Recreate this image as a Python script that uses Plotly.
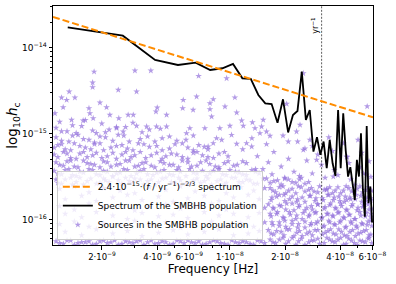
import numpy as np
import plotly.graph_objects as go

# ---------------- data ----------------
# Spectrum of the SMBHB population (frequency bins, Hz) and characteristic strain
spec_freq = [1.3e-9, 2.6e-9, 3.9e-9, 5.2e-9, 6.5e-9, 7.8e-9, 9.1e-9, 1.04e-8, 1.17e-8, 1.30e-8,
             1.43e-8, 1.56e-8, 1.69e-8, 1.82e-8, 1.95e-8, 2.08e-8, 2.21e-8, 2.34e-8, 2.47e-8, 2.60e-8,
             2.73e-8, 2.86e-8, 2.99e-8, 3.12e-8, 3.25e-8, 3.38e-8, 3.51e-8, 3.64e-8, 3.77e-8, 3.90e-8,
             4.03e-8, 4.16e-8, 4.29e-8, 4.42e-8, 4.55e-8, 4.68e-8, 4.81e-8, 4.94e-8, 5.07e-8, 5.20e-8,
             5.33e-8, 5.46e-8, 5.59e-8, 5.72e-8, 5.85e-8, 5.98e-8]
spec_hc = [1.74e-14, 1.39e-14, 7.25e-15, 6.34e-15, 6.74e-15, 5.55e-15, 5.81e-15, 6.52e-15, 4.44e-15, 4.36e-15,
           2.84e-15, 2.27e-15, 2.23e-15, 1.35e-15, 2.53e-15, 1.04e-15, 1.66e-15, 1.85e-15, 5.31e-15, 1.46e-15,
           1.90e-15, 6.22e-16, 9.14e-16, 5.70e-16, 8.15e-16, 3.99e-16, 8.51e-16, 4.56e-16, 3.25e-16, 1.90e-15,
           3.99e-16, 1.74e-15, 6.52e-16, 3.19e-16, 4.10e-16, 2.67e-16, 1.71e-16, 4.99e-16, 3.19e-16, 1.02e-15,
           2.23e-16, 1.09e-16, 1.24e-15, 1.56e-16, 2.44e-16, 9.3e-17]

# power-law reference line (values read at the plot edges)
pl_freq = [1.08e-9, 6.05e-8]
pl_hc = [2.30e-14, 1.56e-15]

year_inv_hz = 3.17e-8

# individual sources (log10 f, log10 hc), read region by region
src_upper_logf = [-8.742, -8.750, -8.750, -8.878, -8.920, -8.847, -8.892, -8.911, -8.956, -8.610,
                  -8.519, -8.432, -8.510, -8.710, -8.770, -8.765, -8.674, -8.656, -8.747, -8.802,
                  -8.865, -8.607, -8.556, -8.528, -8.397, -8.404, -8.346, -8.255, -8.258, -8.182,
                  -8.201, -8.171, -8.401, -8.455, -8.510, -8.619, -8.583, -8.346, -8.219, -8.237,
                  -7.599, -8.018, -7.973, -8.091, -8.109, -8.027, -8.109, -7.963, -8.100, -7.936,
                  -7.877, -7.818, -7.927, -8.000, -8.137, -8.055, -7.827, -7.863, -7.690, -7.800,
                  -7.781, -7.836, -8.073, -8.045, -7.991, -7.909, -7.881, -7.963, -8.091, -8.119,
                  -7.681, -7.636, -7.563, -7.617, -7.599, -7.526, -7.362, -7.317, -7.253, -7.435,
                  -7.472, -7.362, -7.250,
                  -8.93, -8.86, -8.79, -8.70, -8.62, -8.53, -8.44, -8.92, -8.84, -8.75, -8.68]
src_upper_logh = [-14.276, -14.403, -14.457, -14.508, -14.578, -14.578, -14.605, -14.690, -14.760, -14.488,
                  -14.264, -14.264, -14.508, -14.636, -14.701, -14.760, -14.690, -14.779, -14.818, -14.845,
                  -14.837, -14.818, -14.779, -14.779, -14.694, -14.741, -14.779, -14.605, -14.701, -14.566,
                  -14.721, -14.326, -14.915, -14.915, -14.907, -14.934, -14.973, -14.915, -14.934, -14.992,
                  -14.295, -14.353, -14.576, -14.597, -14.643, -14.682, -14.713, -14.752, -14.799, -14.845,
                  -14.866, -14.837, -14.907, -14.907, -14.934, -14.934, -14.915, -14.934, -14.651, -14.973,
                  -15.023, -14.992, -15.050, -15.070, -15.012, -15.108, -15.147, -15.116, -15.108, -15.147,
                  -15.089, -14.973, -15.070, -14.895, -15.186, -15.302, -15.264, -15.593, -15.477, -15.496,
                  -15.651, -15.767, -14.680,
                  -14.86, -14.90, -14.84, -14.88, -14.92, -14.87, -14.95, -14.97, -14.99, -14.96, -14.98]

src_left_logf = [
    -8.95, -8.89, -8.81, -8.73, -8.66, -8.57, -8.48, -8.38,
    -8.95, -8.88, -8.83, -8.77, -8.71, -8.64, -8.58, -8.49, -8.41, -8.33, -8.24,
    -8.92, -8.86, -8.80, -8.74, -8.68, -8.61, -8.55, -8.45, -8.37, -8.29, -8.20,
    -8.94, -8.90, -8.85, -8.79, -8.74, -8.69, -8.62, -8.56, -8.50, -8.44, -8.37, -8.30, -8.23, -8.17, -8.12,
    -8.96, -8.92, -8.87, -8.82, -8.76, -8.71, -8.65, -8.59, -8.53, -8.47, -8.40, -8.33, -8.26, -8.20, -8.14,
    -8.96, -8.91, -8.87, -8.82, -8.78, -8.73, -8.67, -8.62, -8.57, -8.52, -8.46, -8.40, -8.35, -8.29, -8.23,
    -8.18, -8.12, -8.06, -8.01,
    -8.94, -8.89, -8.84, -8.80, -8.75, -8.70, -8.64, -8.59, -8.54, -8.49, -8.43, -8.37, -8.32, -8.26, -8.20,
    -8.15, -8.09, -8.03,
    -8.95, -8.91, -8.87, -8.83, -8.78, -8.74, -8.69, -8.65, -8.60, -8.55, -8.50, -8.46, -8.41, -8.36, -8.31,
    -8.26, -8.21, -8.16, -8.11, -8.06, -8.01, -7.96, -7.91,
    -8.93, -8.89, -8.85, -8.80, -8.76, -8.71, -8.67, -8.62, -8.57, -8.52, -8.48, -8.43, -8.38, -8.33, -8.28,
    -8.23, -8.18, -8.13, -8.08, -8.03, -7.98, -7.93,
    -8.96, -8.92, -8.88, -8.84, -8.80, -8.75, -8.71, -8.67, -8.62, -8.58, -8.54, -8.49, -8.45, -8.40, -8.36,
    -8.31, -8.27, -8.22, -8.18, -8.13, -8.09, -8.04, -8.00, -7.95, -7.91, -7.86, -7.82,
    -8.94, -8.90, -8.86, -8.82, -8.77, -8.73, -8.69, -8.64, -8.60, -8.56, -8.51, -8.47, -8.42, -8.38, -8.33,
    -8.29, -8.24, -8.20, -8.15, -8.11, -8.06, -8.02, -7.97, -7.93, -7.88, -7.84,
    -8.95, -8.92, -8.87, -8.84, -8.80, -8.76, -8.71, -8.68, -8.64, -8.59, -8.55, -8.52, -8.47, -8.43, -8.39,
    -8.35, -8.30, -8.27, -8.22, -8.18, -8.14, -8.10, -8.05, -8.02, -7.97, -7.93, -7.89, -7.85, -7.80, -7.76,
    -7.72, -7.68, -7.64, -7.61, -7.57,
    -8.94, -8.90, -8.86, -8.82, -8.78, -8.73, -8.69, -8.66, -8.61, -8.57, -8.53, -8.49, -8.45, -8.41, -8.37,
    -8.32, -8.28, -8.24, -8.20, -8.16, -8.12, -8.07, -8.03, -7.99, -7.95, -7.91, -7.87, -7.82, -7.78, -7.74,
    -7.70, -7.66, -7.62, -7.59]
src_left_logh = [
    -14.93, -14.97, -14.91, -14.99, -14.95, -14.92, -14.98, -14.94,
    -15.04, -15.09, -15.01, -15.07, -15.03, -15.08, -15.02, -15.06, -15.09, -15.03, -15.07,
    -15.08, -15.02, -15.06, -15.10, -15.04, -15.01, -15.09, -15.03, -15.05, -15.08, -15.02,
    -15.13, -15.18, -15.11, -15.16, -15.12, -15.19, -15.14, -15.17, -15.11, -15.15, -15.19, -15.12, -15.16,
    -15.13, -15.18,
    -15.16, -15.12, -15.19, -15.14, -15.18, -15.11, -15.16, -15.13, -15.19, -15.12, -15.14, -15.17, -15.11,
    -15.19, -15.15,
    -15.24, -15.21, -15.28, -15.23, -15.27, -15.22, -15.26, -15.29, -15.21, -15.25, -15.28, -15.22, -15.26,
    -15.24, -15.29, -15.21, -15.27, -15.23, -15.26,
    -15.27, -15.23, -15.29, -15.21, -15.25, -15.28, -15.22, -15.24, -15.27, -15.21, -15.25, -15.29, -15.23,
    -15.27, -15.22, -15.25, -15.28, -15.21,
    -15.33, -15.37, -15.31, -15.39, -15.34, -15.36, -15.32, -15.38, -15.35, -15.31, -15.37, -15.33, -15.39,
    -15.34, -15.36, -15.31, -15.38, -15.33, -15.35, -15.39, -15.32, -15.36, -15.34,
    -15.36, -15.32, -15.38, -15.31, -15.35, -15.39, -15.33, -15.36, -15.31, -15.38, -15.34, -15.37, -15.32,
    -15.36, -15.39, -15.33, -15.37, -15.31, -15.38, -15.34, -15.37, -15.32,
    -15.43, -15.47, -15.41, -15.49, -15.45, -15.42, -15.48, -15.44, -15.46, -15.41, -15.49, -15.43, -15.47,
    -15.45, -15.42, -15.48, -15.44, -15.41, -15.46, -15.49, -15.43, -15.47, -15.42, -15.45, -15.48, -15.44,
    -15.41,
    -15.46, -15.42, -15.48, -15.44, -15.41, -15.47, -15.43, -15.49, -15.45, -15.42, -15.46, -15.41, -15.48,
    -15.44, -15.47, -15.42, -15.49, -15.45, -15.43, -15.46, -15.41, -15.48, -15.44, -15.47, -15.42, -15.46,
    -15.53, -15.58, -15.51, -15.56, -15.59, -15.52, -15.57, -15.54, -15.50, -15.58, -15.55, -15.52, -15.59,
    -15.53, -15.56, -15.51, -15.57, -15.54, -15.58, -15.52, -15.55, -15.59, -15.53, -15.57, -15.51, -15.56,
    -15.54, -15.58, -15.52, -15.55, -15.59, -15.53, -15.57, -15.51, -15.56,
    -15.57, -15.53, -15.59, -15.51, -15.55, -15.58, -15.52, -15.56, -15.54, -15.51, -15.57, -15.53, -15.55,
    -15.59, -15.52, -15.56, -15.51, -15.58, -15.54, -15.57, -15.52, -15.55, -15.59, -15.51, -15.56, -15.53,
    -15.58, -15.52, -15.57, -15.54, -15.51, -15.56, -15.53, -15.58]

src_mid_right_logf = [-7.88, -7.80, -7.71, -7.63, -7.55, -7.46, -7.38, -7.30,
                      -7.93, -7.85, -7.76, -7.68, -7.59, -7.52, -7.44, -7.36, -7.28,
                      -7.86, -7.79, -7.72, -7.65, -7.58, -7.50, -7.43, -7.35, -7.29, -7.24,
                      -7.77, -7.70, -7.62, -7.55, -7.48, -7.41, -7.34, -7.27, -7.23]
src_mid_right_logh = [-15.05, -15.12, -15.02, -15.09, -15.14, -15.04, -15.11, -15.07,
                      -15.18, -15.26, -15.21, -15.29, -15.17, -15.24, -15.20, -15.27, -15.22,
                      -15.41, -15.33, -15.38, -15.44, -15.31, -15.36, -15.42, -15.34, -15.39, -15.32,
                      -15.47, -15.52, -15.49, -15.46, -15.51, -15.48, -15.53, -15.46, -15.50]

src_low_right_logf = [
    -7.78, -7.75, -7.71, -7.68, -7.64, -7.61, -7.57, -7.54, -7.51, -7.47, -7.44, -7.41, -7.38, -7.35, -7.32, -7.29, -7.26, -7.24,
    -7.77, -7.73, -7.70, -7.66, -7.63, -7.59, -7.56, -7.53, -7.49, -7.46, -7.43, -7.40, -7.37, -7.34, -7.31, -7.28, -7.25, -7.23,
    -7.79, -7.76, -7.72, -7.69, -7.65, -7.62, -7.58, -7.55, -7.52, -7.48, -7.45, -7.42, -7.39, -7.36, -7.33, -7.30, -7.27, -7.24,
    -7.78, -7.74, -7.71, -7.67, -7.64, -7.60, -7.57, -7.53, -7.50, -7.47, -7.44, -7.41, -7.38, -7.35, -7.32, -7.29, -7.26, -7.23,
    -7.77, -7.73, -7.70, -7.66, -7.63, -7.59, -7.56, -7.53, -7.49, -7.46, -7.43, -7.40, -7.37, -7.34, -7.31, -7.28, -7.25, -7.23,
    -7.79, -7.76, -7.72, -7.69, -7.65, -7.62, -7.58, -7.55, -7.52, -7.48, -7.45, -7.42, -7.39, -7.36, -7.33, -7.30, -7.27, -7.24,
    -7.78, -7.75, -7.71, -7.68, -7.64, -7.61, -7.57, -7.54, -7.51, -7.47, -7.44, -7.41, -7.38, -7.35, -7.32, -7.29, -7.26, -7.24,
    -7.765, -7.730, -7.695, -7.660, -7.625, -7.590, -7.555, -7.520, -7.485, -7.455, -7.425, -7.395, -7.365, -7.335, -7.305, -7.275, -7.245, -7.225,
    -7.775, -7.745, -7.705, -7.675, -7.635, -7.605, -7.565, -7.535, -7.495, -7.465, -7.435, -7.405, -7.375, -7.345, -7.315, -7.285, -7.255, -7.230,
    -7.765, -7.730, -7.695, -7.660, -7.625, -7.590, -7.555, -7.520, -7.485, -7.455, -7.425, -7.395, -7.365, -7.335, -7.305, -7.275, -7.245, -7.225,
    -7.775, -7.745, -7.705, -7.675, -7.635, -7.605, -7.565, -7.535, -7.495, -7.465, -7.435, -7.405, -7.375, -7.345, -7.315, -7.285, -7.255, -7.230,
    -7.765, -7.730, -7.695, -7.660, -7.625, -7.590, -7.555, -7.520, -7.485, -7.455, -7.425, -7.395, -7.365, -7.335, -7.305, -7.275, -7.245, -7.225,
    -7.775, -7.745, -7.705, -7.675, -7.635, -7.605, -7.565, -7.535, -7.495, -7.465, -7.435, -7.405, -7.375, -7.345, -7.315, -7.285, -7.255, -7.230,
    -7.765, -7.730, -7.695, -7.660, -7.625, -7.590, -7.555, -7.520, -7.485, -7.455, -7.425, -7.395, -7.365, -7.335, -7.305, -7.275, -7.245, -7.225]
src_low_right_logh = [
    -15.63, -15.68, -15.61, -15.66, -15.69, -15.62, -15.65, -15.67, -15.61, -15.64, -15.69, -15.62, -15.66, -15.63, -15.68, -15.61, -15.65, -15.67,
    -15.74, -15.71, -15.78, -15.73, -15.76, -15.79, -15.72, -15.75, -15.77, -15.71, -15.74, -15.78, -15.73, -15.76, -15.71, -15.79, -15.74, -15.77,
    -15.82, -15.87, -15.84, -15.81, -15.89, -15.83, -15.86, -15.88, -15.82, -15.85, -15.81, -15.87, -15.84, -15.89, -15.82, -15.86, -15.83, -15.88,
    -15.93, -15.91, -15.97, -15.94, -15.99, -15.92, -15.96, -15.91, -15.98, -15.93, -15.95, -15.92, -15.97, -15.94, -15.99, -15.91, -15.96, -15.93,
    -16.03, -16.07, -16.01, -16.05, -16.09, -16.02, -16.06, -16.04, -16.08, -16.01, -16.05, -16.03, -16.09, -16.02, -16.07, -16.04, -16.06, -16.01,
    -16.12, -16.17, -16.14, -16.11, -16.19, -16.13, -16.16, -16.18, -16.12, -16.15, -16.11, -16.17, -16.14, -16.19, -16.12, -16.16, -16.13, -16.18,
    -16.23, -16.27, -16.21, -16.25, -16.29, -16.22, -16.26, -16.24, -16.28, -16.21, -16.25, -16.23, -16.29, -16.22, -16.27, -16.24, -16.26, -16.21,
    -15.66, -15.62, -15.69, -15.64, -15.61, -15.67, -15.63, -15.68, -15.65, -15.62, -15.66, -15.69, -15.61, -15.67, -15.64, -15.68, -15.62, -15.66,
    -15.77, -15.73, -15.71, -15.76, -15.79, -15.74, -15.72, -15.78, -15.75, -15.71, -15.77, -15.73, -15.79, -15.74, -15.76, -15.72, -15.78, -15.75,
    -15.86, -15.83, -15.88, -15.81, -15.85, -15.89, -15.84, -15.82, -15.87, -15.83, -15.86, -15.81, -15.88, -15.84, -15.89, -15.85, -15.82, -15.87,
    -15.96, -15.93, -15.98, -15.91, -15.95, -15.99, -15.94, -15.92, -15.97, -15.93, -15.96, -15.91, -15.98, -15.94, -15.99, -15.95, -15.92, -15.97,
    -16.06, -16.03, -16.08, -16.01, -16.05, -16.09, -16.04, -16.02, -16.07, -16.03, -16.06, -16.01, -16.08, -16.04, -16.09, -16.05, -16.02, -16.07,
    -16.16, -16.13, -16.18, -16.11, -16.15, -16.19, -16.14, -16.12, -16.17, -16.13, -16.16, -16.11, -16.18, -16.14, -16.19, -16.15, -16.12, -16.17,
    -16.26, -16.23, -16.28, -16.21, -16.25, -16.29, -16.24, -16.22, -16.27, -16.23, -16.26, -16.21, -16.28, -16.24, -16.29, -16.25, -16.22, -16.27]

src_low_left_logf = [
    -8.93, -8.85, -8.77, -8.69, -8.60, -8.52, -8.44, -8.35, -8.27, -8.19, -8.10, -8.02, -7.94, -7.87, -7.81,
    -8.90, -8.81, -8.73, -8.64, -8.56, -8.48, -8.39, -8.31, -8.23, -8.14, -8.06, -7.98, -7.90, -7.84,
    -8.93, -8.85, -8.77, -8.69, -8.60, -8.52, -8.44, -8.35, -8.27, -8.19, -8.10, -8.02, -7.94, -7.87, -7.81,
    -8.90, -8.81, -8.73, -8.64, -8.56, -8.48, -8.39, -8.31, -8.23, -8.14, -8.06, -7.98, -7.90, -7.84,
    -8.93, -8.85, -8.77, -8.69, -8.60, -8.52, -8.44, -8.35, -8.27, -8.19, -8.10, -8.02, -7.94, -7.87, -7.81,
    -8.90, -8.81, -8.73, -8.64, -8.56, -8.48, -8.39, -8.31, -8.23, -8.14, -8.06, -7.98, -7.90, -7.84,
    -8.95, -8.91, -8.87, -8.83, -8.79, -8.75, -8.71, -8.67, -8.63, -8.59, -8.55, -8.51, -8.47, -8.43, -8.39,
    -8.35, -8.31, -8.27, -8.23, -8.19, -8.15, -8.11, -8.07, -8.03, -7.99, -7.95, -7.91, -7.87, -7.83,
    -8.93, -8.89, -8.85, -8.81, -8.77, -8.73, -8.69, -8.65, -8.61, -8.57, -8.53, -8.49, -8.45, -8.41, -8.37,
    -8.33, -8.29, -8.25, -8.21, -8.17, -8.13, -8.09, -8.05, -8.01, -7.97, -7.93, -7.89, -7.85, -7.81]
src_low_left_logh = [
    -15.64, -15.61, -15.68, -15.63, -15.66, -15.69, -15.62, -15.65, -15.61, -15.67, -15.64, -15.69, -15.62, -15.66, -15.63,
    -15.76, -15.72, -15.78, -15.74, -15.71, -15.77, -15.73, -15.79, -15.75, -15.72, -15.78, -15.74, -15.71, -15.76,
    -15.84, -15.88, -15.81, -15.86, -15.83, -15.89, -15.85, -15.82, -15.87, -15.84, -15.81, -15.88, -15.85, -15.83, -15.86,
    -15.93, -15.97, -15.91, -15.95, -15.99, -15.92, -15.96, -15.94, -15.98, -15.91, -15.95, -15.93, -15.97, -15.92,
    -16.05, -16.02, -16.08, -16.04, -16.07, -16.01, -16.06, -16.03, -16.09, -16.05, -16.02, -16.07, -16.04, -16.08, -16.03,
    -16.14, -16.18, -16.11, -16.16, -16.13, -16.19, -16.15, -16.12, -16.17, -16.14, -16.11, -16.18, -16.16, -16.13,
    -16.25, -16.28, -16.24, -16.27, -16.26, -16.29, -16.25, -16.27, -16.24, -16.28, -16.26, -16.25, -16.29, -16.24, -16.27,
    -16.26, -16.28, -16.25, -16.24, -16.27, -16.29, -16.26, -16.25, -16.28, -16.24, -16.27, -16.26, -16.29, -16.25,
    -16.27, -16.24, -16.29, -16.26, -16.25, -16.28, -16.24, -16.26, -16.29, -16.25, -16.27, -16.24, -16.26, -16.28, -16.25,
    -16.29, -16.24, -16.27, -16.26, -16.25, -16.28, -16.24, -16.27, -16.29, -16.26, -16.25, -16.28, -16.24, -16.27]

x_tickvals = [2e-9, 4e-9, 6e-9, 1e-8, 2e-8, 4e-8, 6e-8]
x_ticktext = ["2·10<sup>−9</sup>", "4·10<sup>−9</sup>", "6·10<sup>−9</sup>", "1·10<sup>−8</sup>",
              "2·10<sup>−8</sup>", "4·10<sup>−8</sup>", "6·10<sup>−8</sup>"]
x_minor = [3e-9, 5e-9, 7e-9, 8e-9, 9e-9, 3e-8, 5e-8]
y_tickvals = [1e-16, 1e-15, 1e-14]
y_ticktext = ["10<sup>−16</sup>", "10<sup>−15</sup>", "10<sup>−14</sup>"]
y_minor = [m * 10.0 ** e for e in (-17, -16, -15, -14) for m in range(2, 10)]

# ---------------- figure ----------------
src_logf = src_low_left_logf + src_left_logf + src_low_right_logf + src_mid_right_logf + src_upper_logf
src_logh = src_low_left_logh + src_left_logh + src_low_right_logh + src_mid_right_logh + src_upper_logh
n = min(len(src_logf), len(src_logh))
src_f = 10.0 ** np.array(src_logf[:n])
src_h = 10.0 ** np.array(src_logh[:n])

FONT = "DejaVu Sans"
fig = go.Figure()

fig.add_trace(go.Scatter(
    x=src_f, y=src_h, mode="markers", name="Sources in the SMBHB population",
    marker=dict(symbol="star", size=5, color="rgba(147,112,219,0.7)", line=dict(width=0)),
    legendrank=3))

fig.add_trace(go.Scatter(
    x=[year_inv_hz, year_inv_hz], y=[1e-17, 1e-13], mode="lines", showlegend=False,
    line=dict(color="#333333", width=0.8, dash="2px,1.5px"), hoverinfo="skip"))

fig.add_trace(go.Scatter(
    x=spec_freq, y=spec_hc, mode="lines", name="Spectrum of the SMBHB population",
    line=dict(color="black", width=1.8), legendrank=2))

fig.add_trace(go.Scatter(
    x=pl_freq, y=pl_hc, mode="lines",
    name="2.4·10<sup>−15</sup>·(<i>f</i> / yr<sup>−1</sup>)<sup>−2/3</sup> spectrum",
    line=dict(color="#FF8C00", width=2, dash="7px,3px"), legendrank=1))

fig.add_annotation(x=np.log10(year_inv_hz), y=np.log10(1.85e-14), xref="x", yref="y",
                   text="yr<sup>−1</sup>", textangle=-90, showarrow=False,
                   xanchor="right", xshift=0, font=dict(family=FONT, size=8, color="black"))

axis_common = dict(type="log", showline=True, linecolor="black", linewidth=1, mirror=True,
                   ticks="outside", tickcolor="black", showgrid=False, zeroline=False,
                   automargin=False)

fig.update_xaxes(**axis_common, range=[np.log10(1.08e-9), np.log10(6.05e-8)],
                 tickmode="array", tickvals=x_tickvals, ticktext=x_ticktext, ticklen=3.5,
                 tickfont=dict(family=FONT, size=8.5, color="black"),
                 minor=dict(tickmode="array", tickvals=x_minor, ticklen=2, ticks="outside", tickcolor="black"),
                 title=dict(text="Frequency [Hz]", font=dict(family=FONT, size=12, color="black"), standoff=3))
fig.update_yaxes(**axis_common, range=[np.log10(5.1e-17), np.log10(3.08e-14)],
                 tickmode="array", tickvals=y_tickvals, ticktext=y_ticktext, ticklen=3.5,
                 tickfont=dict(family=FONT, size=9, color="black"),
                 minor=dict(tickmode="array", tickvals=y_minor, ticklen=2, ticks="outside", tickcolor="black"),
                 title=dict(text="log<sub>10</sub><i>h</i><sub>c</sub>", font=dict(family=FONT, size=13.5, color="black"), standoff=1))

fig.update_layout(
    template="none",
    width=396, height=284, autosize=False,
    margin=dict(l=53, r=23, t=6, b=39),
    paper_bgcolor="white", plot_bgcolor="white",
    font=dict(family=FONT, size=9, color="black"),
    legend=dict(x=0.012, y=0.02, xanchor="left", yanchor="bottom",
                bgcolor="rgba(255,255,255,0.8)", bordercolor="#cccccc", borderwidth=1,
                font=dict(family=FONT, size=9, color="black"), tracegroupgap=0,
                itemwidth=30),
)

fig.write_html("out.html", config={"displayModeBar": False, "staticPlot": True},
               post_script="document.body.style.margin='0px';document.body.style.padding='0px';")
